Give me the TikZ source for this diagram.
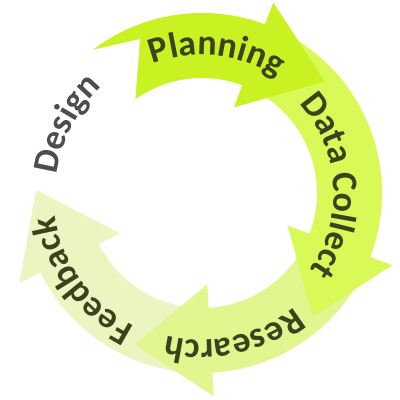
\documentclass[tikz,border=0pt]{standalone}
\usepackage{fontspec}
\setmainfont{Carlito}
\usetikzlibrary{calc,decorations.text}
\definecolor{planC}{RGB}{201,242,34}
\definecolor{dataC}{RGB}{216,249,86}
\definecolor{resC}{RGB}{225,246,142}
\definecolor{feedC}{RGB}{234,245,192}
\definecolor{txtC}{RGB}{58,66,30}
\definecolor{desC}{RGB}{77,77,77}
\newcommand\labelfont{\fontsize{36}{36}\selectfont\bfseries}
% #1 colour, #2 tail angle, #3 head base angle
\newcommand\cyclearrow[3]{%
  \pgfmathsetmacro\tipang{#3-90}%
  \fill[#1] ($(C)+(#2:180pt)$) arc[start angle=#2, end angle=#3, radius=180pt]
    -- ($(C)+(#3:203.5pt)$)
    -- ($(C)+(#3:147.5pt)+(\tipang:76pt)$)
    -- ($(C)+(#3:91.5pt)$)
    -- ($(C)+(#3:115pt)$) arc[start angle=#3, end angle=#2, radius=115pt] -- cycle;}
% #1 centre angle, #2 baseline radius, #3 colour, #4 text
\newcommand\arclabel[4]{%
  \pgfmathsetmacro\angA{#1+75}%
  \pgfmathsetmacro\angB{#1-75}%
  \path[decorate,decoration={text along path,text align=center,
      text={|\labelfont\color{#3}|#4}}]
    ($(C)+(\angA:#2)$) arc[start angle=\angA, end angle=\angB, radius=#2];}
\begin{document}
\begin{tikzpicture}[x=1pt,y=1pt]
\useasboundingbox (0,0) rectangle (400,400);
\coordinate (C) at (202,207);
% arrows (drawn so that each head covers the next tail)
\cyclearrow{feedC}{265.3}{206.2}
\cyclearrow{resC}{-28.8}{-86.7}
\cyclearrow{dataC}{61.5}{-20.8}
\cyclearrow{planC}{131.2}{69.5}
% head of the white "Design" arrow
\pgfmathsetmacro\dtip{139.2-90}
\fill[white] ($(C)+(139.2:203.5pt)$) -- ($(C)+(139.2:147.5pt)+(\dtip:76pt)$) -- ($(C)+(139.2:91.5pt)$) -- cycle;
% labels
\arclabel{84}{138pt}{txtC}{Planning}
\arclabel{3.5}{132pt}{txtC}{Data Collect}
\arclabel{-77.5}{147pt}{txtC}{Research}
\arclabel{216}{149pt}{txtC}{Feedback}
\arclabel{153}{146pt}{desC}{Design}
\end{tikzpicture}
\end{document}
